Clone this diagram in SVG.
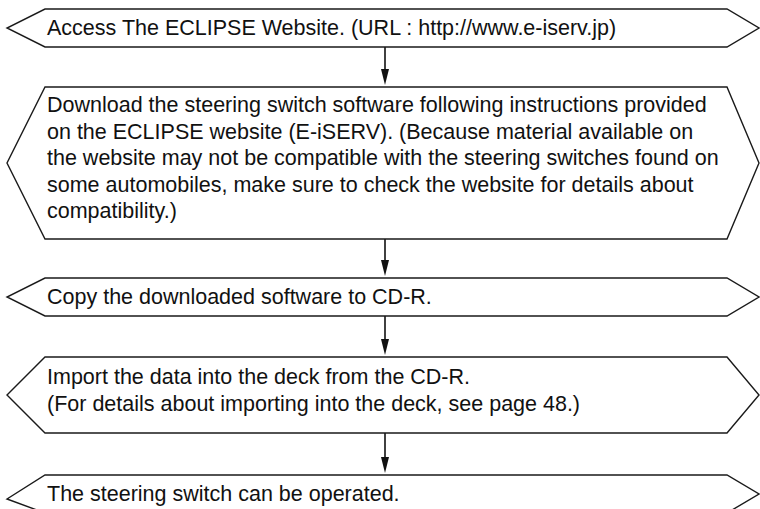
<svg xmlns="http://www.w3.org/2000/svg" width="760" height="509" viewBox="0 0 760 509">
<style>
.box{fill:#fff;stroke:#1a1a1a;stroke-width:1.4;stroke-linejoin:miter}
.t{font-family:"Liberation Sans",Arial,sans-serif;font-size:21.5px;fill:#111}
.c{stroke:#111;stroke-width:1.6;fill:none}
.h{fill:#111}
</style>
<rect width="760" height="509" fill="#fff"/>
<g id="connectors">
<line class="c" x1="385" y1="47" x2="385" y2="69"/>
<path class="h" d="M381,69 L389,69 L385,85 Z"/>
<line class="c" x1="385" y1="239" x2="385" y2="260"/>
<path class="h" d="M381,260 L389,260 L385,276 Z"/>
<line class="c" x1="385" y1="316" x2="385" y2="339"/>
<path class="h" d="M381,339 L389,339 L385,355 Z"/>
<line class="c" x1="385" y1="433" x2="385" y2="457"/>
<path class="h" d="M381,457 L389,457 L385,473 Z"/>
</g>
<g id="n1">
<polygon class="box" points="45,9 727,9 759,28 727,47 45,47 7,28"/>
<text class="t" x="47" y="35">Access The ECLIPSE Website. (URL : http://www.e-iserv.jp)</text>
</g>
<g id="n2">
<polygon class="box" points="45,87 727,87 759,163 727,239 45,239 7,163"/>
<text class="t" x="47" y="112">Download the steering switch software following instructions provided</text>
<text class="t" x="47" y="138.5">on the ECLIPSE website (E-iSERV). (Because material available on</text>
<text class="t" x="47" y="165">the website may not be compatible with the steering switches found on</text>
<text class="t" x="47" y="191.5">some automobiles, make sure to check the website for details about</text>
<text class="t" x="47" y="218">compatibility.)</text>
</g>
<g id="n3">
<polygon class="box" points="45,278 727,278 759,297 727,316 45,316 7,297"/>
<text class="t" x="47" y="304">Copy the downloaded software to CD-R.</text>
</g>
<g id="n4">
<polygon class="box" points="45,357 727,357 759,395 727,433 45,433 7,395"/>
<text class="t" x="47" y="384">Import the data into the deck from the CD-R.</text>
<text class="t" x="47" y="411">(For details about importing into the deck, see page 48.)</text>
</g>
<g id="n5">
<polygon class="box" points="45,475 727,475 759,494 727,513 45,513 7,499"/>
<text class="t" x="47" y="501">The steering switch can be operated.</text>
</g>
</svg>
